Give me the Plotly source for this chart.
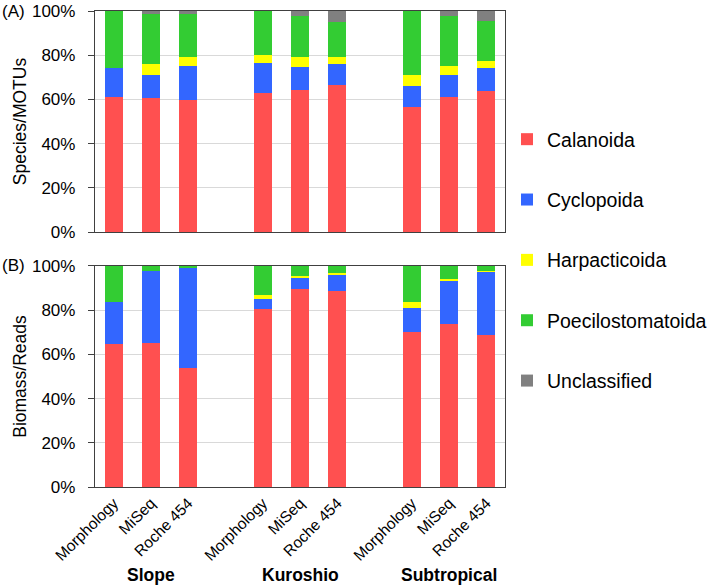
import plotly.graph_objects as go

groups = ["Slope", "Kuroshio", "Subtropical"]
methods = ["Morphology", "MiSeq", "Roche 454"]
taxa = ["Calanoida", "Cyclopoida", "Harpacticoida", "Poecilostomatoida", "Unclassified"]
colors = ["#FF5050", "#3366FF", "#FFFF00", "#33CC33", "#808080"]

# Panel A: Species/MOTUs (%), order: Slope(M, MiSeq, 454), Kuroshio(...), Subtropical(...)
calanoida_a = [61.1, 60.5, 59.7, 63.0, 64.2, 66.6, 56.4, 61.2, 63.6]
cyclopoida_a = [13.0, 10.6, 15.5, 13.3, 10.4, 9.4, 9.8, 9.9, 10.4]
harpacticoida_a = [0.0, 4.7, 3.8, 3.6, 4.6, 3.1, 4.8, 3.9, 3.6]
poecilostomatoida_a = [25.9, 22.7, 19.5, 20.1, 18.5, 15.8, 29.0, 22.6, 17.8]
unclassified_a = [0.0, 1.5, 1.5, 0.0, 2.3, 5.1, 0.0, 2.4, 4.6]

# Panel B: Biomass/Reads (%)
calanoida_b = [64.7, 65.3, 53.7, 80.6, 89.7, 88.6, 70.3, 73.6, 69.0]
cyclopoida_b = [18.8, 32.6, 45.3, 4.4, 5.1, 7.5, 10.6, 19.7, 28.6]
harpacticoida_b = [0.0, 0.0, 0.0, 2.0, 0.6, 0.8, 3.0, 0.7, 0.3]
poecilostomatoida_b = [16.5, 2.1, 1.0, 13.0, 4.6, 3.1, 16.1, 6.0, 2.1]
unclassified_b = [0.0, 0.0, 0.0, 0.0, 0.0, 0.0, 0.0, 0.0, 0.0]

y_ticks = [0, 20, 40, 60, 80, 100]
y_ticklabels = ["0%", "20%", "40%", "60%", "80%", "100%"]

panel_a = [calanoida_a, cyclopoida_a, harpacticoida_a, poecilostomatoida_a, unclassified_a]
panel_b = [calanoida_b, cyclopoida_b, harpacticoida_b, poecilostomatoida_b, unclassified_b]

# slot positions: 3 methods per group, one empty slot between groups
xpos = [g * (len(methods) + 1) + m for g in range(len(groups)) for m in range(len(methods))]
xlabels = [m for g in groups for m in methods]
group_centers = [g * (len(methods) + 1) + (len(methods) - 1) / 2 for g in range(len(groups))]

FONT = "Liberation Sans, Arial, sans-serif"
fig = go.Figure()

for i, (name, col) in enumerate(zip(taxa, colors)):
    fig.add_trace(go.Bar(x=xpos, y=panel_a[i], name=name, marker=dict(color=col, line=dict(width=0)),
                         width=0.48, xaxis="x", yaxis="y", legendgroup=name, showlegend=True))
for i, (name, col) in enumerate(zip(taxa, colors)):
    fig.add_trace(go.Bar(x=xpos, y=panel_b[i], name=name, marker=dict(color=col, line=dict(width=0)),
                         width=0.48, xaxis="x2", yaxis="y2", legendgroup=name, showlegend=False))

axis_common = dict(showline=True, linecolor="#404040", linewidth=1.3, mirror=True, automargin=False)
xr = [-0.5, max(xpos) + 0.5]

fig.update_layout(
    barmode="stack",
    width=710, height=586,
    margin=dict(l=95, r=205, t=11, b=99, autoexpand=False),
    paper_bgcolor="white", plot_bgcolor="white",
    font=dict(family=FONT, size=17, color="black"),
    xaxis=dict(domain=[0, 1], range=xr, anchor="y", showticklabels=False, ticks="",
               showgrid=False, zeroline=False, **axis_common),
    yaxis=dict(domain=[0.5357, 1], range=[0, 100], tickvals=y_ticks, ticktext=y_ticklabels,
               ticks="outside", ticklen=6, tickcolor="#404040", ticklabelstandoff=9,
               showgrid=True, gridcolor="#D9D9D9",
               zeroline=False, title=dict(text="Species/MOTUs", standoff=0, font=dict(size=17.5)),
               anchor="x", **axis_common),
    xaxis2=dict(domain=[0, 1], range=xr, anchor="y2", tickvals=xpos, ticktext=xlabels, tickangle=-45,
                tickfont=dict(size=15.5), ticks="", showgrid=False, zeroline=False, **axis_common),
    yaxis2=dict(domain=[0, 0.4643], range=[0, 100], tickvals=y_ticks, ticktext=y_ticklabels,
                ticks="outside", ticklen=6, tickcolor="#404040", ticklabelstandoff=9,
                showgrid=True, gridcolor="#D9D9D9",
                zeroline=False, title=dict(text="Biomass/Reads", standoff=0, font=dict(size=17.5)),
                anchor="x2", **axis_common),
    legend=dict(x=507 / 710, y=1 - 120 / 586, xref="container", yref="container",
                xanchor="left", yanchor="top", traceorder="grouped",
                tracegroupgap=32, font=dict(size=19.5), bgcolor="rgba(0,0,0,0)"),
    bargap=0,
)

for g, c in zip(groups, group_centers):
    fig.add_annotation(x=c, y=-0.185, xref="x2", yref="paper", text=f"<b>{g}</b>", showarrow=False,
                       font=dict(size=17.5), xanchor="center", yanchor="middle")

fig.add_annotation(x=-0.232, y=1.0, xref="paper", yref="paper", text="(A)", showarrow=False,
                   xanchor="left", yanchor="middle", font=dict(size=17))
fig.add_annotation(x=-0.232, y=0.4643, xref="paper", yref="paper", text="(B)", showarrow=False,
                   xanchor="left", yanchor="middle", font=dict(size=17))

fig.write_html("out.html", config={"displayModeBar": False},
               post_script="document.body.style.margin='0';")
